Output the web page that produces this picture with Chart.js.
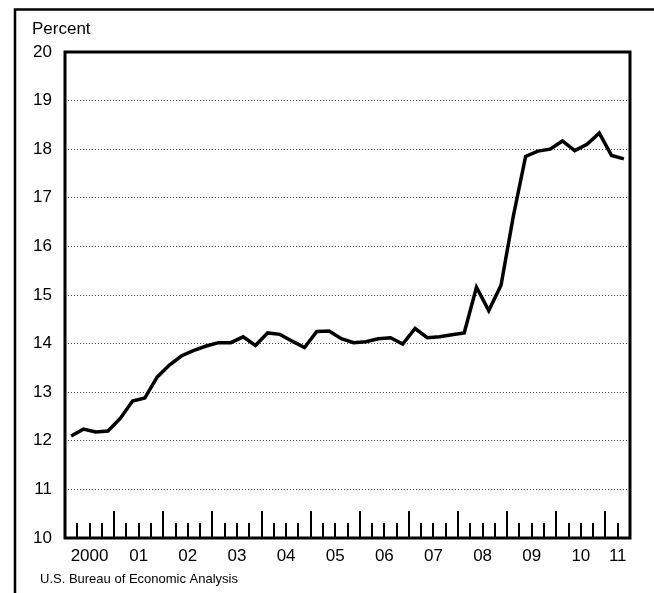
<!DOCTYPE html>
<html>
<head>
<meta charset="utf-8">
<script src="https://cdn.jsdelivr.net/npm/chart.js@4/dist/chart.umd.min.js"></script>
<style>
  body { margin: 0; background: #fff; }
  canvas { display: block; }
</style>
</head>
<body>
<canvas id="share" width="654" height="593"></canvas>
<script>
// quarterly values, 2000:Q1 .. 2011:Q2
var years = ['2000', '01', '02', '03', '04', '05', '06', '07', '08', '09', '10', '11'];
var percent = [
    12.10, 12.24, 12.18, 12.20,
    12.46, 12.82, 12.88, 13.31,
    13.56, 13.75, 13.86, 13.95,
    14.02, 14.02, 14.14, 13.96,
    14.22, 14.19, 14.05, 13.92,
    14.25, 14.26, 14.10, 14.02,
    14.04, 14.10, 14.12, 13.99,
    14.31, 14.12, 14.14, 14.18,
    14.22, 15.16, 14.68, 15.20,
    16.62, 17.85, 17.96, 18.00,
    18.17, 17.97, 18.10, 18.33,
    17.87, 17.80
];
var yTicks = [10, 11, 12, 13, 14, 15, 16, 17, 18, 19, 20];
var unitLabel = 'Percent';
var sourceLabel = 'U.S. Bureau of Economic Analysis';

var FONT = '"Liberation Sans", Arial, sans-serif';

var points = percent.map(function(v, i){
    return {x: i + 0.5, y: v};
});

// frame, plot box, quarter ticks and the two loose texts
var decor = {
    id: 'decor',
    beforeDraw: function(chart){
        var ctx = chart.ctx;
        ctx.save();
        ctx.strokeStyle = '#000';
        ctx.lineWidth = 2.5;
        ctx.beginPath();
        ctx.moveTo(15, 593);
        ctx.lineTo(15, 9.5);
        ctx.lineTo(654, 9.5);
        ctx.stroke();

        ctx.fillStyle = '#000';
        ctx.font = '17px ' + FONT;
        ctx.textBaseline = 'alphabetic';
        ctx.fillText(unitLabel, 32, 34);
        ctx.font = '13px ' + FONT;
        ctx.fillText(sourceLabel, 40, 583);
        ctx.restore();
    },
    afterDatasetsDraw: function(chart){
        var ctx = chart.ctx, a = chart.chartArea, xs = chart.scales.x;
        ctx.save();
        ctx.strokeStyle = '#000';
        ctx.lineWidth = 2;
        ctx.beginPath();
        for (var q = 1; q < percent.length; q++){
            var px = Math.round(xs.getPixelForValue(q));
            var h = (q % 4 === 0) ? 27 : 15;
            ctx.moveTo(px, a.bottom);
            ctx.lineTo(px, a.bottom - h);
        }
        ctx.stroke();
        ctx.lineWidth = 3;
        ctx.strokeRect(a.left, a.top, a.right - a.left, a.bottom - a.top);
        ctx.restore();
    }
};

new Chart(document.getElementById('share').getContext('2d'), {
    type: 'line',
    data: {
        datasets: [{
            data: points,
            borderColor: '#000',
            borderWidth: 3.5,
            pointRadius: 0,
            tension: 0,
            fill: false
        }]
    },
    options: {
        responsive: false,
        animation: false,
        layout: {padding: {left: 0, top: 52, right: 24, bottom: 0}},
        plugins: {legend: {display: false}, tooltip: {enabled: false}},
        scales: {
            x: {
                type: 'linear',
                min: 0,
                max: percent.length,
                border: {display: false},
                grid: {display: false, drawTicks: false},
                afterFit: function(s){ s.height = 55; },
                afterBuildTicks: function(s){
                    var t = [];
                    years.forEach(function(y, i){
                        var c = i * 4 + 2;
                        if (c + 2 > percent.length) c = (i * 4 + percent.length) / 2;
                        t.push({value: c});
                    });
                    s.ticks = t;
                },
                ticks: {
                    autoSkip: false,
                    maxRotation: 0,
                    padding: 8,
                    color: '#000',
                    font: {family: FONT, size: 17},
                    callback: function(v, i){ return years[i]; }
                }
            },
            y: {
                min: yTicks[0],
                max: yTicks[yTicks.length - 1],
                border: {display: false, dash: [1, 2]},
                afterFit: function(s){ s.width = 65; },
                afterBuildTicks: function(s){
                    s.ticks = yTicks.map(function(v){ return {value: v}; });
                },
                grid: {
                    drawTicks: false,
                    color: function(c){
                        var v = c.tick && c.tick.value;
                        return (v === yTicks[0] || v === yTicks[yTicks.length - 1]) ? 'rgba(0,0,0,0)' : '#444';
                    },
                    lineWidth: 1
                },
                ticks: {
                    padding: 13,
                    color: '#000',
                    font: {family: FONT, size: 17}
                }
            }
        }
    },
    plugins: [decor]
});
</script>
</body>
</html>
